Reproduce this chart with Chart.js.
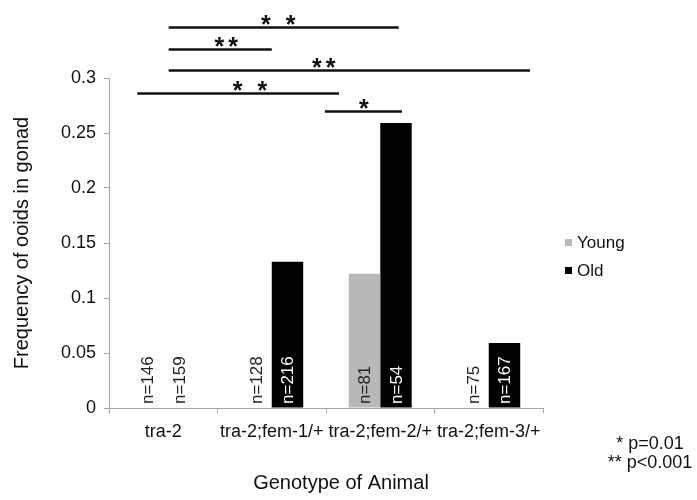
<!DOCTYPE html>
<html><head><meta charset="utf-8">
<script src="https://cdn.jsdelivr.net/npm/chart.js@4/dist/chart.umd.min.js"></script>
<style>html,body{margin:0;padding:0;background:#fff}#wrap{width:697px;height:500px;position:relative}</style>
</head><body><div id="wrap"><canvas id="c"></canvas></div>
<script>
const categories = ['tra-2', 'tra-2;fem-1/+', 'tra-2;fem-2/+', 'tra-2;fem-3/+'];
const seriesNames = ['Young', 'Old'];
const young = [0, 0, 0.122, 0];
const old = [0, 0.133, 0.259, 0.059];
const nYoung = [146, 128, 81, 75];
const nOld = [159, 216, 54, 167];
const yTicks = [0, 0.05, 0.1, 0.15, 0.2, 0.25, 0.3];
// significance brackets, in data units (category index / y value)
const bracketFrom = [0.05, 0.05, 0.05, -0.24, 1.49];
const bracketTo = [2.17, 1.0, 3.38, 1.62, 2.20];
const bracketLevel = [0.3465, 0.3264, 0.3073, 0.2863, 0.2699];
const bracketStarAt = [1.06, 0.58, 1.48, 0.80, 1.85];
const bracketStars = ['* *', '**', '**', '* *', '*'];
const footnotes = ['* p=0.01', '** p<0.001'];
const xTitle = 'Genotype of Animal';

const FONT = '"Liberation Sans", Arial, Helvetica, sans-serif';
const AXIS = '#a8a8a8';

const overlay = {
  id: 'overlay',
  afterDatasetsDraw(chart) {
    const { ctx, scales: { x, y } } = chart;
    ctx.save();
    ctx.font = '17px ' + FONT;
    [nYoung, nOld].forEach((arr, di) => {
      const meta = chart.getDatasetMeta(di);
      arr.forEach((n, i) => {
        const bar = meta.data[i];
        const val = chart.data.datasets[di].data[i];
        ctx.save();
        ctx.translate(bar.x, y.getPixelForValue(0) - 4);
        ctx.rotate(-Math.PI / 2);
        ctx.textAlign = 'left';
        ctx.textBaseline = 'middle';
        ctx.fillStyle = (di === 1 && val > 0) ? '#ffffff' : '#222222';
        ctx.fillText('n=' + n, 0, 1);
        ctx.restore();
      });
    });
    ctx.restore();
  },
  afterDraw(chart) {
    const { ctx, scales: { x, y } } = chart;
    ctx.save();
    // brackets
    ctx.strokeStyle = '#111';
    ctx.lineWidth = 2.5;
    ctx.fillStyle = '#111';
    ctx.font = 'bold 25px ' + FONT;
    ctx.textAlign = 'center';
    ctx.textBaseline = 'alphabetic';
    ctx.letterSpacing = '4px';
    bracketFrom.forEach((f, i) => {
      const yy = Math.round(y.getPixelForValue(bracketLevel[i])) + 0.5;
      ctx.beginPath();
      ctx.moveTo(x.getPixelForValue(f), yy);
      ctx.lineTo(x.getPixelForValue(bracketTo[i]), yy);
      ctx.stroke();
      ctx.fillText(bracketStars[i], x.getPixelForValue(bracketStarAt[i]) + 2, yy + 5);
    });
    ctx.letterSpacing = '0px';
    // legend
    ctx.font = '17px ' + FONT;
    ctx.textAlign = 'left';
    ctx.textBaseline = 'middle';
    seriesNames.forEach((name, i) => {
      const ly = 243 + i * 28;
      ctx.fillStyle = chart.data.datasets[i].backgroundColor;
      ctx.fillRect(565, ly - 4, 7, 7);
      ctx.fillStyle = '#111';
      ctx.fillText(name, 577, ly);
    });
    // footnotes
    ctx.font = '18px ' + FONT;
    ctx.textAlign = 'center';
    footnotes.forEach((t, i) => {
      ctx.fillText(t, 650, 444 + i * 19);
    });
    // x axis title
    ctx.font = '20px ' + FONT;
    ctx.fillText(xTitle, (x.left + x.right) / 2 + 15, 483);
    ctx.restore();
  }
};

new Chart(document.getElementById('c'), {
  type: 'bar',
  data: {
    labels: categories,
    datasets: [
      { label: seriesNames[0], data: young, backgroundColor: '#b8b8b8', borderWidth: 0 },
      { label: seriesNames[1], data: old, backgroundColor: '#000000', borderWidth: 0 }
    ]
  },
  options: {
    responsive: true,
    maintainAspectRatio: false,
    animation: false,
    devicePixelRatio: 1,
    layout: { padding: { top: 78, right: 154, bottom: 0, left: 0 } },
    categoryPercentage: 0.58,
    barPercentage: 1.0,
    plugins: { legend: { display: false }, tooltip: { enabled: false } },
    scales: {
      x: {
        grid: { display: true, drawOnChartArea: false, drawTicks: true, tickLength: 5, color: AXIS, offset: true },
        border: { display: true, color: AXIS, width: 1 },
        ticks: { color: '#111', font: { family: FONT, size: 18 }, padding: 8, maxRotation: 0, autoSkip: false },
        afterFit(s) { s.height = 92; }
      },
      y: {
        min: 0, max: 0.3,
        afterBuildTicks(s) { s.ticks = yTicks.map(v => ({ value: v })); },
        grid: { display: true, drawOnChartArea: false, drawTicks: true, tickLength: 5, color: AXIS },
        border: { display: true, color: AXIS, width: 1 },
        ticks: { color: '#111', font: { family: FONT, size: 18 }, padding: 8,
          callback: v => String(Number(v.toFixed(2))) },
        title: { display: true, text: 'Frequency of ooids in gonad', color: '#111', font: { family: FONT, size: 20 }, padding: { top: 10, bottom: 0 } },
        afterFit(s) { s.width = 109; }
      }
    }
  },
  plugins: [overlay]
});
</script>
</body></html>
